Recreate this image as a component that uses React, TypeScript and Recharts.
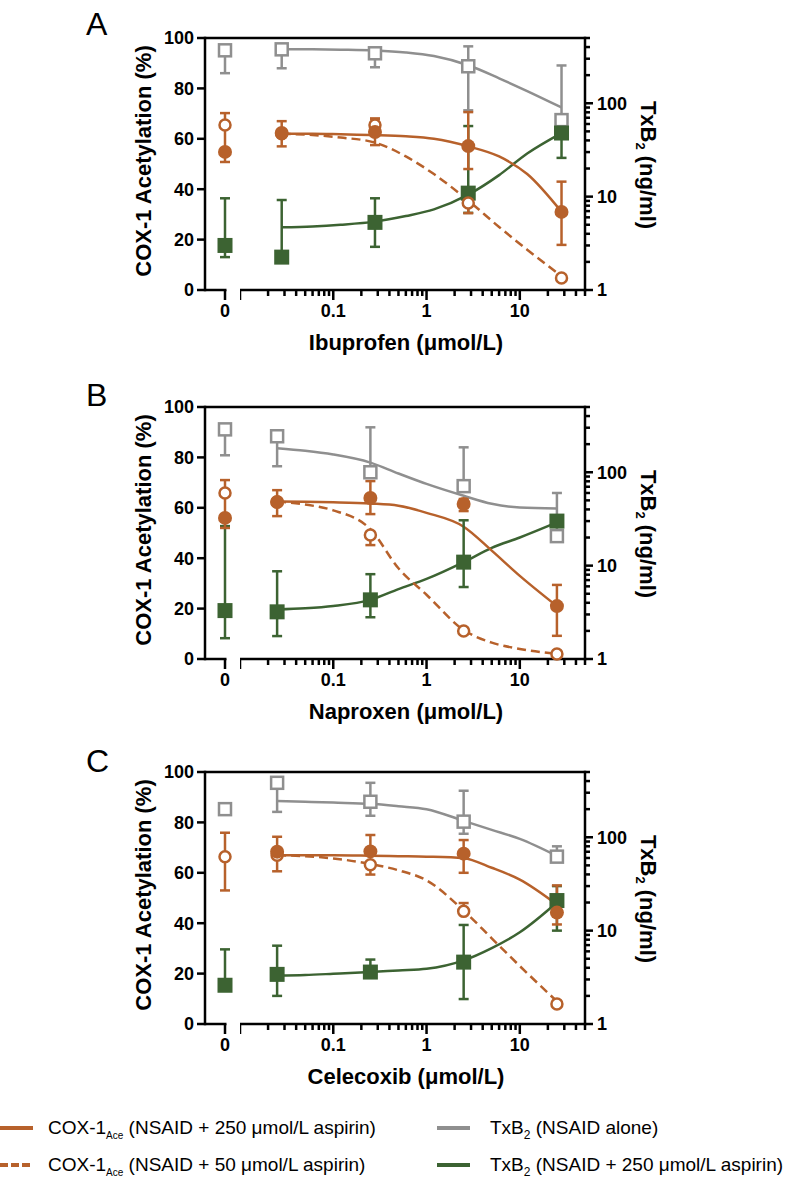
import {
  ComposedChart,
  Line,
  Scatter,
  XAxis,
  YAxis,
  ErrorBar,
  ReferenceLine,
  Label,
} from "recharts";

const ORANGE = "#B7612B";
const GRAY = "#8F8F8F";
const GREEN = "#3C6332";
const FONT = '"Liberation Sans", Arial, Helvetica, sans-serif';

// Panel A - ibuprofen
const ibuConc = [0, 0.028, 0.28, 2.8, 28];
const ibuCox250 = [54.8, 62.3, 62.7, 57.1, 31];
const ibuCox250Lo = [50.8, 57, 57.5, 48, 17.9];
const ibuCox250Hi = [54.8, 67, 68, 70.6, 43];
const ibuCox50 = [65.5, 62, 65.5, 34.5, 4.8];
const ibuCox50Lo = [55, 62, 65.5, 30.5, 4.8];
const ibuCox50Hi = [70.2, 62, 68, 34.5, 4.8];
const ibuTxbAlone = [369, 378, 343, 249, 66];
const ibuTxbAloneLo = [210, 237, 243, 84, 66];
const ibuTxbAloneHi = [369, 378, 343, 407, 254];
const ibuTxbAsp = [3.0, 2.25, 5.3, 10.9, 48];
const ibuTxbAspLo = [2.25, 2.25, 2.9, 6.7, 26];
const ibuTxbAspHi = [9.6, 9.2, 9.6, 57, 60];
const ibuFitX = [0.028, 0.06, 0.12, 0.28, 0.6, 1.2, 2.8, 6, 12, 28];
const ibuFitTxbAlone = [380, 378, 375, 368, 350, 320, 255, 185, 135, 90];
const ibuFitTxbAsp = [4.7, 4.8, 5.0, 5.4, 6.2, 7.3, 10.5, 17, 29, 48];
const ibuFitCox250 = [62, 62, 61.8, 61.5, 61, 60, 57, 53, 46, 31];
const ibuFitCox50 = [62, 61.5, 60.5, 58.5, 53, 46, 35.5, 25, 16, 5.5];

// Panel B - naproxen
const napConc = [0, 0.025, 0.25, 2.5, 25];
const napCox250 = [56, 62.3, 63.9, 61.5, 21];
const napCox250Lo = [52, 56.7, 57.5, 58.7, 9.2];
const napCox250Hi = [56, 67, 70.6, 63.5, 29.4];
const napCox50 = [65.9, 62.3, 49.2, 11.1, 2];
const napCox50Lo = [56, 62.3, 45.2, 11.1, 2];
const napCox50Hi = [71, 62.3, 49.2, 11.1, 2];
const napTxbAlone = [288, 243, 100, 71, 20.7];
const napTxbAloneLo = [152, 116, 100, 71, 18.5];
const napTxbAloneHi = [288, 243, 303, 185, 60];
const napTxbAsp = [3.3, 3.2, 4.3, 10.9, 30];
const napTxbAspLo = [1.67, 1.76, 2.8, 5.9, 30];
const napTxbAspHi = [26.5, 8.7, 8.1, 30.6, 30];
const napFitX = [0.025, 0.05, 0.1, 0.25, 0.5, 1, 2.5, 5, 10, 25];
const napFitTxbAlone = [181, 170, 155, 127, 97, 75, 56, 46, 42, 41];
const napFitTxbAsp = [3.4, 3.5, 3.7, 4.3, 5.6, 7.2, 10.9, 15.5, 20, 29];
const napFitCox250 = [62.5, 62.4, 62.2, 61.7, 60.8, 58, 52.5, 43, 33, 21];
const napFitCox50 = [62.5, 61.3, 59, 51.5, 36, 25.5, 11.5, 6.5, 4, 2];

// Panel C - celecoxib
const celConc = [0, 0.025, 0.25, 2.5, 25];
const celCox250 = [null, 68.4, 68.5, 67.6, 44.2];
const celCox250Lo = [null, 60.6, 68.5, 60, 39.5];
const celCox250Hi = [null, 74.3, 75, 73, 55];
const celCox50 = [66.4, 67, 63.2, 44.7, 7.9];
const celCox50Lo = [53, 67, 59.3, 44.7, 7.9];
const celCox50Hi = [75.9, 67, 63.2, 48, 7.9];
const celTxbAlone = [200, 383, 240, 147, 62];
const celTxbAloneLo = [200, 187, 170, 109, 62];
const celTxbAloneHi = [200, 383, 383, 315, 80];
const celTxbAsp = [2.6, 3.4, 3.6, 4.6, 21];
const celTxbAspLo = [2.6, 2.0, 3.6, 1.85, 10];
const celTxbAspHi = [6.3, 6.9, 4.9, 11.5, 30];
const celFitX = [0.025, 0.05, 0.1, 0.25, 0.5, 1, 2.5, 5, 10, 25];
const celFitTxbAlone = [245, 240, 235, 228, 215, 200, 150, 120, 96, 63];
const celFitTxbAsp = [3.3, 3.35, 3.45, 3.6, 3.75, 3.9, 4.8, 6.5, 9.6, 20];
const celFitCox250 = [67, 67, 67, 66.8, 66.6, 66.4, 65.8, 62, 57.3, 47.4];
const celFitCox50 = [67, 66.6, 65.7, 63.5, 61, 57, 45, 34, 23, 9];

// axis ticks
const xLogTicks = [
  0.01, 0.02, 0.03, 0.04, 0.05, 0.06, 0.07, 0.08, 0.09,
  0.1, 0.2, 0.3, 0.4, 0.5, 0.6, 0.7, 0.8, 0.9,
  1, 2, 3, 4, 5, 6, 7, 8, 9,
  10, 20, 30, 40, 50,
];
const xMajor = [0, 0.01, 0.1, 1, 10];
const xLabels: Record<string, string> = { "0": "0", "0.1": "0.1", "1": "1", "10": "10" };
const yLinTicks = [0, 20, 40, 60, 80, 100];
const yLogTicks = [
  1, 2, 3, 4, 5, 6, 7, 8, 9,
  10, 20, 30, 40, 50, 60, 70, 80, 90,
  100, 200, 300, 400, 500,
];
const yLogMajor = [1, 10, 100];

const legendMain = ["COX-1", "COX-1", "TxB", "TxB"];
const legendSub = ["Ace", "Ace", "2", "2"];
const legendRest = [
  " (NSAID + 250 \u03bcmol/L aspirin)",
  " (NSAID + 50 \u03bcmol/L aspirin)",
  " (NSAID alone)",
  " (NSAID + 250 \u03bcmol/L aspirin)",
];

const panels = [
  {
    letter: "A", drug: "Ibuprofen", top: 38, letterTop: 8,
    conc: ibuConc,
    c250: [ibuCox250, ibuCox250Lo, ibuCox250Hi],
    c50: [ibuCox50, ibuCox50Lo, ibuCox50Hi],
    alone: [ibuTxbAlone, ibuTxbAloneLo, ibuTxbAloneHi],
    asp: [ibuTxbAsp, ibuTxbAspLo, ibuTxbAspHi],
    fitX: ibuFitX, fitAlone: ibuFitTxbAlone, fitAsp: ibuFitTxbAsp,
    fitC250: ibuFitCox250, fitC50: ibuFitCox50,
  },
  {
    letter: "B", drug: "Naproxen", top: 407, letterTop: 379,
    conc: napConc,
    c250: [napCox250, napCox250Lo, napCox250Hi],
    c50: [napCox50, napCox50Lo, napCox50Hi],
    alone: [napTxbAlone, napTxbAloneLo, napTxbAloneHi],
    asp: [napTxbAsp, napTxbAspLo, napTxbAspHi],
    fitX: napFitX, fitAlone: napFitTxbAlone, fitAsp: napFitTxbAsp,
    fitC250: napFitCox250, fitC50: napFitCox50,
  },
  {
    letter: "C", drug: "Celecoxib", top: 772, letterTop: 745,
    conc: celConc,
    c250: [celCox250, celCox250Lo, celCox250Hi],
    c50: [celCox50, celCox50Lo, celCox50Hi],
    alone: [celTxbAlone, celTxbAloneLo, celTxbAloneHi],
    asp: [celTxbAsp, celTxbAspLo, celTxbAspHi],
    fitX: celFitX, fitAlone: celFitTxbAlone, fitAsp: celFitTxbAsp,
    fitC250: celFitCox250, fitC50: celFitCox50,
  },
];

const MT = 10;
const PH = 252;
const XH = 75;
const MB = 5;
const CH = MT + PH + XH + MB;
const AXIS = { stroke: "#000", strokeWidth: 2.5, strokeLinecap: "square" as const };

const toPoints = (conc: number[], s: any[][], zero: boolean) => {
  const [val, lo, hi] = s;
  const rows: any[] = [];
  conc.forEach((x, i) => {
    if (val[i] == null) return;
    if (zero ? x !== 0 : x === 0) return;
    rows.push({ x, y: val[i], err: [val[i] - lo[i], hi[i] - val[i]] });
  });
  return rows;
};

const openSquare = (p: any) => (
  <rect x={p.cx - 6} y={p.cy - 6} width={12} height={12} fill="#fff" stroke={GRAY} strokeWidth={2.5} />
);
const filledSquare = (p: any) => (
  <rect x={p.cx - 7.5} y={p.cy - 7.5} width={15} height={15} fill={GREEN} />
);
const openCircle = (p: any) => (
  <circle cx={p.cx} cy={p.cy} r={5.5} fill="#fff" stroke={ORANGE} strokeWidth={2.5} />
);
const filledCircle = (p: any) => <circle cx={p.cx} cy={p.cy} r={7} fill={ORANGE} />;

const tickText = { fontFamily: FONT, fontWeight: 700, fontSize: 18, fill: "#000" };
const titleText = { fontFamily: FONT, fontWeight: 700, fontSize: 22, fill: "#000" };

const XTick = (props: any) => {
  const { x, y, payload } = props;
  const v = payload.value;
  const major = xMajor.includes(v);
  const label = xLabels[String(v)];
  return (
    <g>
      <line x1={x} x2={x} y1={y} y2={y + (major ? 10 : 6)} stroke="#000" strokeWidth={2.5} />
      {label && (
        <text x={x} y={y + 21} dy="0.35em" textAnchor="middle" {...tickText}>
          {label}
        </text>
      )}
    </g>
  );
};

const LeftTick = (props: any) => {
  const { x, y, payload } = props;
  return (
    <g>
      <line x1={x - 8} x2={x} y1={y} y2={y} stroke="#000" strokeWidth={2.5} />
      <text x={x - 11} y={y} dy="0.35em" textAnchor="end" {...tickText}>
        {payload.value}
      </text>
    </g>
  );
};

const RightTick = (props: any) => {
  const { x, y, payload } = props;
  const major = yLogMajor.includes(payload.value);
  return (
    <g>
      <line x1={x} x2={x + (major ? 8 : 5)} y1={y} y2={y} stroke="#000" strokeWidth={2.5} />
      {major && (
        <text x={x + 12} y={y} dy="0.35em" textAnchor="start" {...tickText}>
          {payload.value}
        </text>
      )}
    </g>
  );
};

const markers = (p: any, zero: boolean) => [
  <Scatter key="alone" yAxisId="right" data={toPoints(p.conc, p.alone, zero)} dataKey="y"
    shape={openSquare} isAnimationActive={false}>
    <ErrorBar dataKey="err" direction="y" width={5} stroke={GRAY} strokeWidth={2.5} isAnimationActive={false} />
  </Scatter>,
  <Scatter key="asp" yAxisId="right" data={toPoints(p.conc, p.asp, zero)} dataKey="y"
    shape={filledSquare} isAnimationActive={false}>
    <ErrorBar dataKey="err" direction="y" width={5} stroke={GREEN} strokeWidth={2.5} isAnimationActive={false} />
  </Scatter>,
  <Scatter key="c50" yAxisId="left" data={toPoints(p.conc, p.c50, zero)} dataKey="y"
    shape={openCircle} isAnimationActive={false}>
    <ErrorBar dataKey="err" direction="y" width={5} stroke={ORANGE} strokeWidth={2.5} isAnimationActive={false} />
  </Scatter>,
  <Scatter key="c250" yAxisId="left" data={toPoints(p.conc, p.c250, zero)} dataKey="y"
    shape={filledCircle} isAnimationActive={false}>
    <ErrorBar dataKey="err" direction="y" width={5} stroke={ORANGE} strokeWidth={2.5} isAnimationActive={false} />
  </Scatter>,
];

const Panel = ({ p }: { p: any }) => {
  const fitRows = p.fitX.map((x: number, i: number) => ({
    x,
    alone: p.fitAlone[i],
    asp: p.fitAsp[i],
    c250: p.fitC250[i],
    c50: p.fitC50[i],
  }));
  const midY = MT + PH / 2;
  return (
    <>
      <div style={{ position: "absolute", left: 86, top: p.letterTop, fontFamily: FONT, fontSize: 32, lineHeight: "32px" }}>
        {p.letter}
      </div>
      <div style={{ position: "absolute", left: 0, top: p.top - MT }}>
        <ComposedChart width={240} height={CH} margin={{ top: MT, right: 0, bottom: MB, left: 0 }}>
          <XAxis type="number" dataKey="x" domain={[-4, 3]} ticks={[0]} interval={0}
            axisLine={false} tickLine={false} tickSize={0} tickMargin={0} tick={XTick} height={XH} />
          <YAxis yAxisId="left" type="number" domain={[0, 100]} ticks={yLinTicks} interval={0} width={205}
            axisLine={AXIS} tickLine={false} tickSize={0} tickMargin={0} tick={LeftTick}>
            <Label
              content={() => (
                <text x={143} y={midY - 3} transform={`rotate(-90, 143, ${midY - 3})`}
                  textAnchor="middle" dominantBaseline="central" {...titleText}>
                  COX-1 Acetylation (%)
                </text>
              )}
            />
          </YAxis>
          <YAxis yAxisId="right" orientation="right" type="number" scale="log" domain={[1, 500]} hide />
          <ReferenceLine yAxisId="left" y={100} stroke="#000" strokeWidth={2.5} />
          <ReferenceLine yAxisId="left" segment={[{ x: -4, y: 0 }, { x: 0.3, y: 0 }]} stroke="#000" strokeWidth={2.5} />
          {markers(p, true)}
        </ComposedChart>
      </div>
      <div style={{ position: "absolute", left: 240, top: p.top - MT }}>
        <ComposedChart width={435} height={CH} data={fitRows} margin={{ top: MT, right: 0, bottom: MB, left: 0 }}>
          <XAxis type="number" dataKey="x" scale="log" domain={[0.01, 50]} ticks={xLogTicks} interval={0}
            axisLine={AXIS} tickLine={false} tickSize={0} tickMargin={0} tick={XTick} height={XH}>
            <Label
              content={() => (
                <text x={166} y={MT + PH + 52} textAnchor="middle" dominantBaseline="central" {...titleText}>
                  {`${p.drug} (\u03bcmol/L)`}
                </text>
              )}
            />
          </XAxis>
          <YAxis yAxisId="left" type="number" domain={[0, 100]} hide />
          <YAxis yAxisId="right" orientation="right" type="number" scale="log" domain={[1, 500]}
            ticks={yLogTicks} interval={0} width={90}
            axisLine={AXIS} tickLine={false} tickSize={0} tickMargin={0} tick={RightTick}>
            <Label
              content={() => (
                <text x={408} y={midY + 1} transform={`rotate(90, 408, ${midY + 1})`}
                  textAnchor="middle" dominantBaseline="central" {...titleText}>
                  TxB<tspan fontSize={13} dy={7}>2</tspan>
                  <tspan dy={-7}> (ng/ml)</tspan>
                </text>
              )}
            />
          </YAxis>
          <ReferenceLine yAxisId="left" y={100} stroke="#000" strokeWidth={2.5} />
          <Line yAxisId="right" dataKey="alone" type="monotone" stroke={GRAY} strokeWidth={2.5} dot={false} isAnimationActive={false} />
          <Line yAxisId="right" dataKey="asp" type="monotone" stroke={GREEN} strokeWidth={2.5} dot={false} isAnimationActive={false} />
          <Line yAxisId="left" dataKey="c50" type="monotone" stroke={ORANGE} strokeWidth={2.5} strokeDasharray="9 5" dot={false} isAnimationActive={false} />
          <Line yAxisId="left" dataKey="c250" type="monotone" stroke={ORANGE} strokeWidth={2.5} dot={false} isAnimationActive={false} />
          {markers(p, false)}
        </ComposedChart>
      </div>
    </>
  );
};

const legendPos = [
  { lx: 0, tx: 48, y: 1128, color: ORANGE, dash: undefined },
  { lx: 0, tx: 48, y: 1165, color: ORANGE, dash: "8 3" },
  { lx: 437, tx: 490, y: 1128, color: GRAY, dash: undefined },
  { lx: 437, tx: 490, y: 1165, color: GREEN, dash: undefined },
];

export default function App() {
  return (
    <div style={{ position: "absolute", left: 0, top: 0, width: 793, height: 1180, background: "#fff", color: "#000" }}>
      {panels.map((p) => (
        <Panel key={p.letter} p={p} />
      ))}
      {legendPos.map((l, i) => (
        <div key={i}>
          <svg style={{ position: "absolute", left: l.lx, top: l.y - 3 }} width={33} height={6}>
            <line x1={0} x2={33} y1={3} y2={3} stroke={l.color} strokeWidth={4} strokeDasharray={l.dash} />
          </svg>
          <div style={{ position: "absolute", left: l.tx, top: l.y - 12, fontFamily: FONT, fontSize: 19, lineHeight: "24px", whiteSpace: "nowrap" }}>
            {legendMain[i]}
            <sub style={{ fontSize: i < 2 ? 10 : 12, verticalAlign: "-5px" }}>{legendSub[i]}</sub>
            {legendRest[i]}
          </div>
        </div>
      ))}
    </div>
  );
}
